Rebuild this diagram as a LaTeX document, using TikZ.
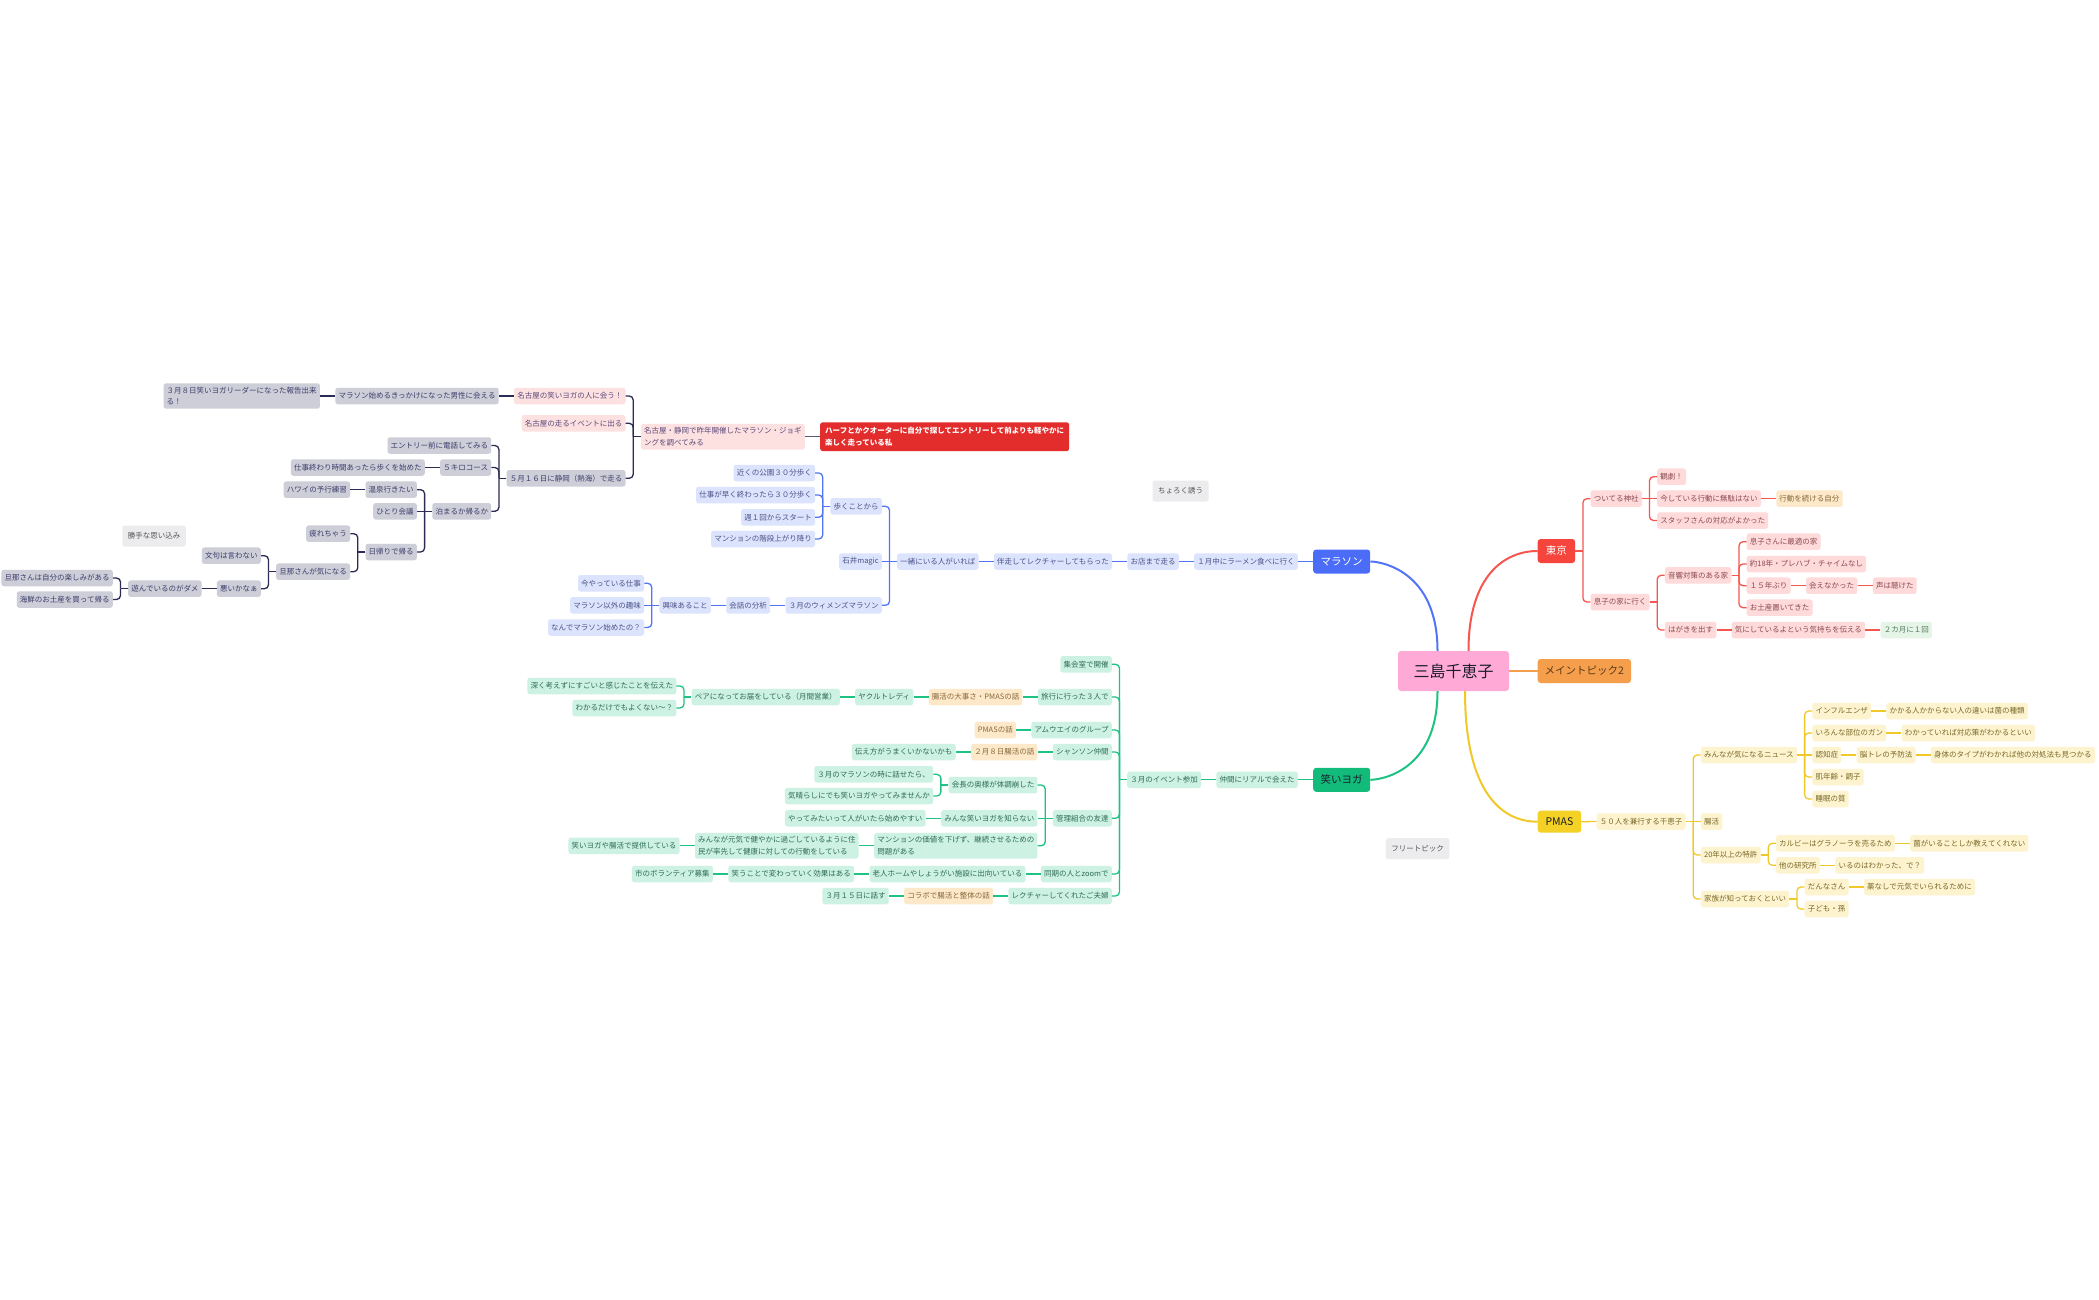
\documentclass[tikz,border=0pt]{standalone}
\usepackage{fontspec}
\setmainfont{Noto Sans CJK JP}
\definecolor{blueM}{HTML}{4A6CF7}
\definecolor{blueL}{HTML}{DCE3FD}
\definecolor{blueT}{HTML}{4A5286}
\definecolor{blueLine}{HTML}{5275F5}
\definecolor{greenM}{HTML}{12BB79}
\definecolor{greenL}{HTML}{CDF2E4}
\definecolor{greenT}{HTML}{2F6B55}
\definecolor{greenLine}{HTML}{1EC282}
\definecolor{redM}{HTML}{F5453D}
\definecolor{redL}{HTML}{FFDADA}
\definecolor{redT}{HTML}{8A4A50}
\definecolor{redLine}{HTML}{F5564F}
\definecolor{yelM}{HTML}{F3D125}
\definecolor{yelL}{HTML}{FDF4CF}
\definecolor{yelT}{HTML}{7A6828}
\definecolor{yelLine}{HTML}{F0C928}
\definecolor{orgM}{HTML}{F59E4B}
\definecolor{orgT}{HTML}{5B3A1A}
\definecolor{pinkC}{HTML}{FFAAD6}
\definecolor{centerT}{HTML}{1C1C2E}
\definecolor{grayL}{HTML}{CDCED8}
\definecolor{grayT}{HTML}{3D3D6B}
\definecolor{grayLine}{HTML}{2B2B55}
\definecolor{pinkL}{HTML}{FDE0E0}
\definecolor{pinkT}{HTML}{5A4A7A}
\definecolor{peachL}{HTML}{FDE9C9}
\definecolor{peachT}{HTML}{86683A}
\definecolor{lgL}{HTML}{E5F6E8}
\definecolor{lgT}{HTML}{557A5A}
\definecolor{floatL}{HTML}{ECECEE}
\definecolor{floatT}{HTML}{555555}
\definecolor{redF}{HTML}{E32C2C}
\definecolor{hLine}{HTML}{5A5A6A}
\newcommand{\mNL}[5]{\path ([xshift=-15pt]#3.west) coordinate (tmpx); \path (0,#4) coordinate (tmpy); \node[#1,anchor=east] (#2) at (tmpx |- tmpy) {#5};}
\newcommand{\mNR}[5]{\path ([xshift=15pt]#3.east) coordinate (tmpx); \path (0,#4) coordinate (tmpy); \node[#1,anchor=west] (#2) at (tmpx |- tmpy) {#5};}
\newcommand{\mEL}[3]{\draw[#1] (#2.west) -- ++(-7.5,0); \draw[#1] ([xshift=-7.5pt]#2.west) |- (#3.east);}
\newcommand{\mER}[3]{\draw[#1] (#2.east) -- ++(7.5,0); \draw[#1] ([xshift=7.5pt]#2.east) |- (#3.west);}
\newcommand{\mSL}[3]{\draw[#1] (#2.west) -- (#3.east);}
\newcommand{\mSR}[3]{\draw[#1] (#2.east) -- (#3.west);}
\tikzset{
 sub/.style={rounded corners=2.5pt, inner xsep=3.2pt, inner ysep=3.5pt, minimum height=16.5pt, font=\fontsize{7.5}{11.7}\selectfont, align=left},
 bs/.style={sub, fill=blueL, text=blueT},
 gs/.style={sub, fill=greenL, text=greenT},
 rs/.style={sub, fill=redL, text=redT},
 ys/.style={sub, fill=yelL, text=yelT},
 ks/.style={sub, fill=grayL, text=grayT},
 ps/.style={sub, fill=pinkL, text=pinkT},
 os/.style={sub, fill=peachL, text=peachT},
 ls/.style={sub, fill=lgL, text=lgT},
 fl/.style={sub, fill=floatL, text=floatT, minimum height=21pt, inner xsep=5.5pt},
 mainnode/.style={rounded corners=3pt, minimum height=24pt, inner xsep=7pt, font=\fontsize{10.5}{12}\selectfont},
 ln/.style={line width=1.3pt, rounded corners=4pt},
 lb/.style={ln, draw=blueLine},
 lg/.style={ln, draw=greenLine},
 lr/.style={ln, draw=redLine},
 ly/.style={ln, draw=yelLine},
 lk/.style={ln, draw=grayLine},
 lh/.style={ln, draw=hLine},
 mc/.style={line width=2pt},
}
\begin{document}
\begin{tikzpicture}[x=1pt,y=-1pt]
\fill[white] (0,0) rectangle (2099,1300);
\useasboundingbox (0,0) rectangle (2099,1300);

% ===== center and main topics =====
\node[rounded corners=3pt, fill=pinkC, text=centerT, minimum width=111pt, minimum height=40pt, font=\fontsize{16}{18}\selectfont] (C) at (1453.5,671) {三島千恵子};
\node[mainnode, fill=blueM, text=white, minimum width=57pt] (M) at (1341.7,561.5) {マラソン};
\node[mainnode, fill=greenM, text=centerT, minimum width=57pt] (WY) at (1341.7,779.8) {笑いヨガ};
\node[mainnode, fill=redM, text=white, minimum width=37.5pt, anchor=west] (T) at (1537.5,551) {東京};
\node[mainnode, fill=orgM, text=orgT, minimum width=91pt, anchor=west] (MT) at (1537.5,671) {メイントピック2};
\node[mainnode, fill=yelM, text=centerT, minimum width=43.5pt, minimum height=22pt, anchor=west] (PM) at (1537.5,821.7) {PMAS};

\draw[mc, draw=blueLine] ([xshift=-16pt]C.north) .. controls (1437.5,570) and (1380,561.5) .. (M.east);
\draw[mc, draw=greenLine] ([xshift=-16pt]C.south) .. controls (1437.5,772) and (1380,779.8) .. (WY.east);
\draw[mc, draw=redLine] ([xshift=15pt]C.north) .. controls (1468.5,575) and (1505,551) .. (T.west);
\draw[mc, draw=yelLine] ([xshift=11.5pt]C.south) .. controls (1465,790) and (1500,821.7) .. (PM.west);
\draw[mc, draw=orgM] (C.east) -- (MT.west);

% ===== floating topics =====
\node[fl] (F1) at (1180.5,491) {ちょろく誘う};
\node[fl] (F2) at (154,536) {勝手な思い込み};
\node[fl] (F3) at (1417.5,848.7) {フリートピック};
\node[sub, fill=redF, text=white, font=\fontsize{7.5}{11.7}\selectfont\bfseries, inner xsep=5pt, inner ysep=5pt, anchor=west] (H) at (820,436.7) {ハーフとかクオーターに自分で探してエントリーして前よりも軽やかに\\楽しく走っている私};

% ===== blue branch =====
\mNL{bs}{b1}{M}{561.5}{１月中にラーメン食べに行く}
\mNL{bs}{b2}{b1}{561.5}{お店まで走る}
\mNL{bs}{b3}{b2}{561.5}{伴走してレクチャーしてもらった}
\mNL{bs}{b4}{b3}{561.5}{一緒にいる人がいれば}
\mNL{bs}{b5}{b4}{506.3}{歩くことから}
\mNL{bs}{b6}{b4}{561.5}{石井magic}
\mNL{bs}{b7}{b4}{605.3}{３月のウィメンズマラソン}
\mNL{bs}{b8}{b5}{473}{近くの公園３０分歩く}
\mNL{bs}{b9}{b5}{495}{仕事が早く終わったら３０分歩く}
\mNL{bs}{b10}{b5}{517.3}{週１回からスタート}
\mNL{bs}{b11}{b5}{539}{マンションの階段上がり降り}
\mNL{bs}{b12}{b7}{605.3}{会話の分析}
\mNL{bs}{b13}{b12}{605.3}{興味あること}
\mNL{bs}{b14}{b13}{583.3}{今やっている仕事}
\mNL{bs}{b15}{b13}{605.3}{マラソン以外の趣味}
\mNL{bs}{b16}{b13}{627.5}{なんでマラソン始めたの？}
\mSL{lb}{M}{b1}
\mSL{lb}{b1}{b2}
\mSL{lb}{b2}{b3}
\mSL{lb}{b3}{b4}
\mEL{lb}{b4}{b5}
\mSL{lb}{b4}{b6}
\mEL{lb}{b4}{b7}
\mEL{lb}{b5}{b8}
\mEL{lb}{b5}{b9}
\mEL{lb}{b5}{b10}
\mEL{lb}{b5}{b11}
\mSL{lb}{b7}{b12}
\mSL{lb}{b12}{b13}
\mEL{lb}{b13}{b14}
\mSL{lb}{b13}{b15}
\mEL{lb}{b13}{b16}

% ===== gray branch (from red floating topic) =====
\mNL{ps}{k0}{H}{436.7}{名古屋・静岡で昨年開催したマラソン・ジョギ\\ングを調べてみる}
\mNL{ps}{k1}{k0}{396}{名古屋の笑いヨガの人に会う！}
\mNL{ps}{k2}{k0}{423.3}{名古屋の走るイベントに出る}
\mNL{ks}{k3}{k0}{478.3}{５月１６日に静岡（熱海）で走る}
\mNL{ks}{k4}{k1}{396}{マラソン始めるきっかけになった男性に会える}
\mNL{ks}{k5}{k4}{396}{３月８日笑いヨガリーダーになった報告出来\\る！}
\mNL{ks}{k6}{k3}{445.5}{エントリー前に電話してみる}
\mNL{ks}{k7}{k3}{467.5}{５キロコース}
\mNL{ks}{k8}{k3}{511.3}{泊まるか帰るか}
\mNL{ks}{k9}{k7}{467.5}{仕事終わり時間あったら歩くを始めた}
\mNL{ks}{k10}{k8}{489.7}{温泉行きたい}
\mNL{ks}{k11}{k8}{511.3}{ひとり会議}
\mNL{ks}{k12}{k8}{552}{日帰りで帰る}
\mNL{ks}{k13}{k10}{489.7}{ハワイの予行練習}
\mNL{ks}{k14}{k12}{533.7}{疲れちゃう}
\mNL{ks}{k15}{k12}{571.7}{旦那さんが気になる}
\mNL{ks}{k16}{k15}{555.7}{文句は言わない}
\mNL{ks}{k17}{k15}{588.7}{悪いかなぁ}
\mNL{ks}{k18}{k17}{588.7}{遊んでいるのがダメ}
\mNL{ks}{k19}{k18}{578}{旦那さんは自分の楽しみがある}
\mNL{ks}{k20}{k18}{599.5}{海鮮のお土産を買って帰る}
\mSL{lh}{H}{k0}
\mEL{lk}{k0}{k1}
\mEL{lk}{k0}{k2}
\mEL{lk}{k0}{k3}
\mSL{lk}{k1}{k4}
\mSL{lk}{k4}{k5}
\mEL{lk}{k3}{k6}
\mEL{lk}{k3}{k7}
\mEL{lk}{k3}{k8}
\mSL{lk}{k7}{k9}
\mEL{lk}{k8}{k10}
\mSL{lk}{k8}{k11}
\mEL{lk}{k8}{k12}
\mSL{lk}{k10}{k13}
\mEL{lk}{k12}{k14}
\mEL{lk}{k12}{k15}
\mEL{lk}{k15}{k16}
\mEL{lk}{k15}{k17}
\mSL{lk}{k17}{k18}
\mEL{lk}{k18}{k19}
\mEL{lk}{k18}{k20}

% ===== green branch =====
\mNL{gs}{g1}{WY}{779.8}{仲間にリアルで会えた}
\mNL{gs}{g2}{g1}{779.8}{３月のイベント参加}
\mNL{gs}{g3}{g2}{664.3}{集会室で開催}
\mNL{gs}{g4}{g2}{697}{旅行に行った３人で}
\mNL{gs}{g5}{g2}{730}{アムウエイのグループ}
\mNL{gs}{g6}{g2}{752}{シャンソン仲間}
\mNL{gs}{g7}{g2}{818.3}{管理組合の友達}
\mNL{gs}{g8}{g2}{874}{同期の人とzoomで}
\mNL{gs}{g9}{g2}{896}{レクチャーしてくれたご夫婦}
\mNL{os}{g10}{g4}{697}{腸活の大事さ・PMASの話}
\mNL{gs}{g11}{g10}{697}{ヤクルトレディ}
\mNL{gs}{g12}{g11}{697}{ペアになってお届をしている（月間営業）}
\mNL{gs}{g13}{g12}{686}{深く考えずにすごいと感じたことを伝えた}
\mNL{gs}{g14}{g12}{708}{わかるだけでもよくない～？}
\mNL{os}{g15}{g5}{730}{PMASの話}
\mNL{os}{g16}{g6}{752}{２月８日腸活の話}
\mNL{gs}{g17}{g16}{752}{伝え方がうまくいかないかも}
\mNL{gs}{g18}{g7}{785}{会長の奥様が体調崩した}
\mNL{gs}{g19}{g7}{818.3}{みんな笑いヨガを知らない}
\mNL{gs}{g20}{g7}{845.8}{マンションの価値を下げず、継続させるための\\問題がある}
\mNL{gs}{g21}{g18}{774.3}{３月のマラソンの時に話せたら、}
\mNL{gs}{g22}{g18}{796}{気晴らしにでも笑いヨガやってみませんか}
\mNL{gs}{g23}{g19}{818.3}{やってみたいって人がいたら始めやすい}
\mNL{gs}{g24}{g20}{845.8}{みんなが元気で健やかに過ごしているように住\\民が率先して健康に対しての行動をしている}
\mNL{gs}{g25}{g24}{845.8}{笑いヨガや腸活で提供している}
\mNL{gs}{g26}{g8}{874}{老人ホームやしょうがい施設に出向いている}
\mNL{gs}{g27}{g26}{874}{笑うことで変わっていく効果はある}
\mNL{gs}{g28}{g27}{874}{市のボランティア募集}
\mNL{os}{g29}{g9}{896}{コラボで腸活と整体の話}
\mNL{gs}{g30}{g29}{896}{３月１５日に話す}
\mSL{lg}{WY}{g1}
\mSL{lg}{g1}{g2}
\mEL{lg}{g2}{g3}
\mEL{lg}{g2}{g4}
\mEL{lg}{g2}{g5}
\mEL{lg}{g2}{g6}
\mEL{lg}{g2}{g7}
\mEL{lg}{g2}{g8}
\mEL{lg}{g2}{g9}
\mSL{lg}{g4}{g10}
\mSL{lg}{g10}{g11}
\mSL{lg}{g11}{g12}
\mEL{lg}{g12}{g13}
\mEL{lg}{g12}{g14}
\mSL{lg}{g5}{g15}
\mSL{lg}{g6}{g16}
\mSL{lg}{g16}{g17}
\mEL{lg}{g7}{g18}
\mSL{lg}{g7}{g19}
\mEL{lg}{g7}{g20}
\mEL{lg}{g18}{g21}
\mEL{lg}{g18}{g22}
\mSL{lg}{g19}{g23}
\mSL{lg}{g20}{g24}
\mSL{lg}{g24}{g25}
\mSL{lg}{g8}{g26}
\mSL{lg}{g26}{g27}
\mSL{lg}{g27}{g28}
\mSL{lg}{g9}{g29}
\mSL{lg}{g29}{g30}

% ===== red branch =====
\mNR{rs}{r1}{T}{498.7}{ついてる神社}
\mNR{rs}{r2}{T}{602}{息子の家に行く}
\mNR{rs}{r3}{r1}{476.7}{観劇！}
\mNR{rs}{r4}{r1}{498.7}{今している行動に無駄はない}
\mNR{rs}{r5}{r1}{520.5}{スタッフさんの対応がよかった}
\mNR{os}{r6}{r4}{498.7}{行動を続ける自分}
\mNR{rs}{r7}{r2}{575.3}{音響対策のある家}
\mNR{rs}{r8}{r2}{630}{はがきを出す}
\mNR{rs}{r9}{r7}{541.7}{息子さんに最適の家}
\mNR{rs}{r10}{r7}{564}{約18年・プレハブ・チャイムなし}
\mNR{rs}{r11}{r7}{585.7}{１５年ぶり}
\mNR{rs}{r12}{r7}{607.7}{お土産置いてきた}
\mNR{rs}{r13}{r11}{585.7}{会えなかった}
\mNR{rs}{r14}{r13}{585.7}{声は聴けた}
\mNR{rs}{r15}{r8}{630}{気にしているよという気持ちを伝える}
\mNR{ls}{r16}{r15}{630}{２カ月に１回}
\mER{lr}{T}{r1}
\mER{lr}{T}{r2}
\mER{lr}{r1}{r3}
\mSR{lr}{r1}{r4}
\mER{lr}{r1}{r5}
\mSR{lr}{r4}{r6}
\mER{lr}{r2}{r7}
\mER{lr}{r2}{r8}
\mER{lr}{r7}{r9}
\mER{lr}{r7}{r10}
\mER{lr}{r7}{r11}
\mER{lr}{r7}{r12}
\mSR{lr}{r11}{r13}
\mSR{lr}{r13}{r14}
\mSR{lr}{r8}{r15}
\mSR{lr}{r15}{r16}

% ===== yellow branch =====
\mNR{ys}{y1}{PM}{821.5}{５０人を兼行する千恵子}
\mNR{ys}{y2}{y1}{755}{みんなが気になるニュース}
\mNR{ys}{y3}{y1}{821.5}{腸活}
\mNR{ys}{y4}{y1}{855}{20年以上の特許}
\mNR{ys}{y5}{y1}{899}{家族が知っておくといい}
\mNR{ys}{y6}{y2}{711}{インフルエンザ}
\mNR{ys}{y7}{y2}{733}{いろんな部位のガン}
\mNR{ys}{y8}{y2}{755}{認知症}
\mNR{ys}{y9}{y2}{777}{肌年齢・調子}
\mNR{ys}{y10}{y2}{799}{睡眠の質}
\mNR{ys}{y11}{y6}{711}{かかる人かからない人の違いは菌の種類}
\mNR{ys}{y12}{y7}{733}{わかっていれば対応策がわかるといい}
\mNR{ys}{y13}{y8}{755}{脳トレの予防法}
\mNR{ys}{y14}{y13}{755}{身体のタイプがわかれば他の対処法も見つかる}
\mNR{ys}{y15}{y4}{843.3}{カルビーはグラノーラを売るため}
\mNR{ys}{y16}{y4}{865.3}{他の研究所}
\mNR{ys}{y17}{y15}{843.3}{菌がいることしか教えてくれない}
\mNR{ys}{y18}{y16}{865.3}{いるのはわかった、で？}
\mNR{ys}{y19}{y5}{887}{だんなさん}
\mNR{ys}{y20}{y5}{909}{子ども・孫}
\mNR{ys}{y21}{y19}{887}{薬なしで元気でいられるために}
\mSR{ly}{PM}{y1}
\mER{ly}{y1}{y2}
\mSR{ly}{y1}{y3}
\mER{ly}{y1}{y4}
\mER{ly}{y1}{y5}
\mER{ly}{y2}{y6}
\mER{ly}{y2}{y7}
\mSR{ly}{y2}{y8}
\mER{ly}{y2}{y9}
\mER{ly}{y2}{y10}
\mSR{ly}{y6}{y11}
\mSR{ly}{y7}{y12}
\mSR{ly}{y8}{y13}
\mSR{ly}{y13}{y14}
\mER{ly}{y4}{y15}
\mER{ly}{y4}{y16}
\mSR{ly}{y15}{y17}
\mSR{ly}{y16}{y18}
\mER{ly}{y5}{y19}
\mER{ly}{y5}{y20}
\mSR{ly}{y19}{y21}
\end{tikzpicture}
\end{document}
